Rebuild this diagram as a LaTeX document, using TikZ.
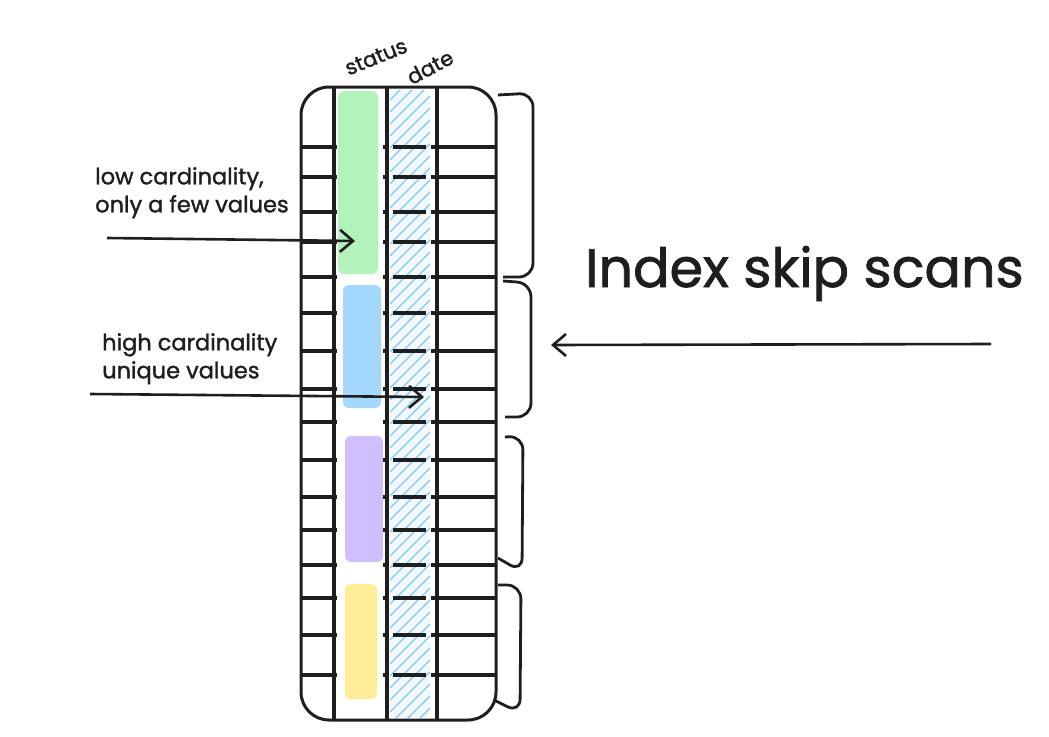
\documentclass[tikz,border=0pt]{standalone}
\usepackage{fontspec}
\setmainfont{Poppins}[FakeBold=1.4]
\usepackage{xcolor}
\usepackage{tikz}
\usetikzlibrary{arrows.meta}
\definecolor{inkblack}{HTML}{1E1E1E}
\definecolor{statusgreen}{HTML}{B2F2BB}
\definecolor{statusblue}{HTML}{A5D8FF}
\definecolor{statuspurple}{HTML}{D0BFFF}
\definecolor{statusyellow}{HTML}{FFEC99}
\definecolor{datefill}{HTML}{F1F8FE}
\definecolor{datehatch}{HTML}{85C6F4}

\begin{document}
\begin{tikzpicture}[
  x=1pt, y=1pt,
  grid/.style={line width=3.2pt, inkblack},
  cell/.style={rounded corners=6pt, inner sep=0pt},
  hatch/.style={line width=1.1pt, datehatch},
  lab/.style={font=\fontsize{22.5}{28}\selectfont, text=inkblack, align=left, inner sep=0pt},
  head/.style={font=\fontsize{21}{21}\selectfont, text=inkblack, inner sep=0pt},
  arr/.style={line width=2.6pt, inkblack,
              -{Straight Barb[length=13pt, width=22pt, line width=2.6pt]}},
  bracket/.style={line width=2.8pt, inkblack, rounded corners=14pt}
]
\useasboundingbox (0,0) rectangle (1049,-736);
% ----- status column: one coloured run per value -----
\node[cell, fill=statusgreen,  minimum width=40pt, minimum height=183pt] (green)  at (358,-182.5) {};
\node[cell, fill=statusblue,   minimum width=38pt, minimum height=123pt] (blue)   at (362,-346.5) {};
\node[cell, fill=statuspurple, minimum width=38pt, minimum height=126pt] (purple) at (364,-499)   {};
\node[cell, fill=statusyellow, minimum width=32pt, minimum height=115pt] (yellow) at (361,-641.5) {};
% ----- date column: hatched -----
\node[cell, fill=datefill, minimum width=40pt, minimum height=628pt] (date) at (410,-404) {};
\begin{scope}
  \clip[rounded corners=6pt] (date.north west) rectangle (date.south east);
  \foreach \k in {-12,0,...,672}{\draw[hatch] (390,-\k-100) -- (430,-\k-60);}
\end{scope}
% ----- table frame and grid -----
\node[draw=inkblack, line width=3pt, rounded corners=28pt, minimum width=195pt,
      minimum height=633pt, inner sep=0pt] (tbl) at (398.5,-403.5) {};
\foreach \x in {334,387,437}{\draw[grid] (\x,-88) -- (\x,-719);}
\foreach \y in {147,177,212,242,277,313,351,389,422,460,497,530,565,598,635,675}{
  \draw[grid] (302,-\y) -- (337,-\y);
  \draw[grid, line width=3.6pt, dash pattern=on 5pt off 5pt on 33pt off 5pt] (383,-\y) -- (436,-\y);
  \draw[grid] (437,-\y) -- (495,-\y);
}
% ----- column headers -----
\node[head, rotate=22] (statuslab) at (376,-57) {status};
\node[head, rotate=28] (datelab)   at (430,-67) {date};
% ----- annotations on the left -----
\node[lab, anchor=north west] (lowlab)  at (95,-167) {low cardinality,\\only a few values};
\node[lab, anchor=north west] (highlab) at (102,-333) {high cardinality\\unique values};
\coordinate (lowtail)  at (107,-238);
\coordinate (lowhead)  at (355,-241);
\coordinate (hightail) at (90,-394);
\coordinate (highhead) at (424,-397);
\draw[arr] (lowtail) -- (lowhead);
\draw[arr] (hightail) -- (highhead);
% ----- skip-scan groups on the right -----
\draw[bracket] (498,-95) -- (533,-93) -- (533,-277) -- (503,-277);
\draw[bracket] (503,-281) -- (531,-283) -- (531,-417) -- (505,-417);
\draw[bracket] (505,-437) -- (523,-436) -- (522,-572) -- (498,-558);
\draw[bracket] (498,-585) -- (521,-585) -- (520,-713) -- (494,-700);
\node[font=\fontsize{54}{54}\selectfont, text=inkblack, anchor=base west, inner sep=0pt]
  (title) at (585,-287) {Index skip scans};
\coordinate (scantail) at (991,-344);
\coordinate (scanhead) at (551,-345);
\draw[arr] (scantail) -- (scanhead);
\end{tikzpicture}
\end{document}
